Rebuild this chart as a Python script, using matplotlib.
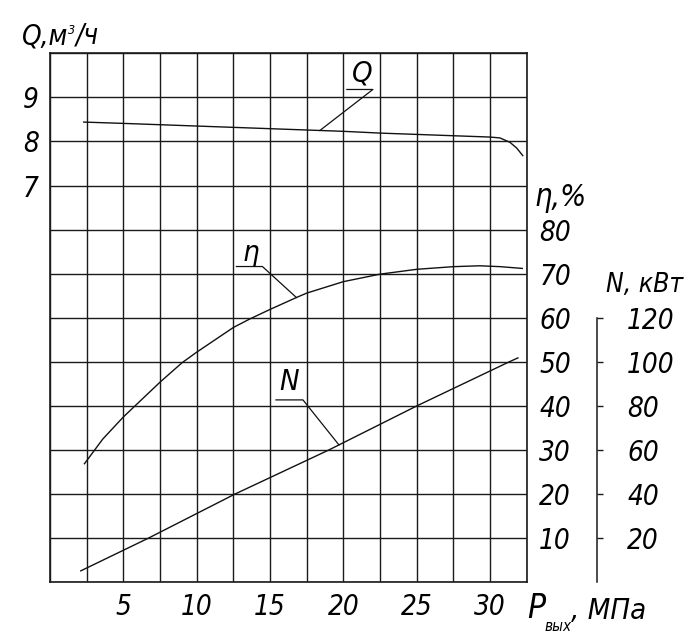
import numpy as np
import matplotlib
matplotlib.use('Agg')
import matplotlib.pyplot as plt
import matplotlib.transforms as mtrans
from matplotlib.lines import Line2D

plt.rcParams['font.family'] = ['DejaVu Sans']
plt.rcParams['font.style'] = 'italic'
plt.rcParams['font.stretch'] = 'condensed'

# ---------------- data ----------------
x_labels = [5, 10, 15, 20, 25, 30]
q_labels = [7, 8, 9]
eta_labels = [10, 20, 30, 40, 50, 60, 70, 80]
n_labels = [20, 40, 60, 80, 100, 120]

p_q = [2.3, 5, 7.5, 10, 12.5, 15, 17.5, 20, 22.5, 25, 27.5, 30, 30.68, 31.36, 31.82, 32.23]
q = [8.44, 8.41, 8.38, 8.35, 8.32, 8.29, 8.26, 8.23, 8.19, 8.16, 8.13, 8.10, 8.08, 7.98, 7.85, 7.68]

p_eta = [2.35, 3.6, 5, 7.5, 9, 10, 12.5, 13.6, 15, 16.8, 17.5, 20, 22.5, 25, 27.5, 29.3, 30.7, 32.2]
eta = [26.9, 32.5, 37.5, 45.4, 49.8, 52.2, 57.8, 59.7, 61.9, 64.6, 65.6, 68.2, 69.9, 71.0, 71.6, 71.8, 71.6, 71.2]

p_n = [2.1, 6.7, 12.6, 19.0, 25.0, 31.3, 31.9]
n_kw = [5.2, 20, 40, 60, 80, 100, 101.8]

# ---------------- layout ----------------
W, H = 689, 640
L, R, T, B = 50, 526.7, 53.3, 582.3
FS = 20
INK = '#1a1a1a'

fig = plt.figure(figsize=(W / 100, H / 100), dpi=100)
ax = fig.add_axes([L / W, 1 - B / H, (R - L) / W, (B - T) / H])

x_grid = np.arange(0, 32.5 + 1e-9, 2.5)
q_grid = np.arange(-2, 10 + 1e-9, 1)
ax.set_xlim(0, 32.5)
ax.set_ylim(-2, 10)
ax.set_xticks(x_grid)
ax.set_xticklabels([f'{v:g}' if v in x_labels else '' for v in x_grid])
ax.set_yticks(q_grid)
ax.set_yticklabels([f'{v:g}' if v in q_labels else '' for v in q_grid])
ax.grid(True, color=INK, lw=1.0)
ax.set_axisbelow(True)
ax.tick_params(length=0, labelsize=FS)
ax.tick_params(axis='x', pad=8)
ax.tick_params(axis='y', pad=8)
for s in ax.spines.values():
    s.set_color(INK)
    s.set_linewidth(1.2)

ax.plot(p_q, q, color='#111', lw=1.0, clip_on=False)

# efficiency axis
ax2 = ax.twinx()
ax2.set_ylim(0, 120)
ax2.set_yticks(eta_labels)
ax2.tick_params(length=0, labelsize=FS, pad=9)
for s in ax2.spines.values():
    s.set_visible(False)
ax2.plot(p_eta, eta, color='#111', lw=1.0, clip_on=False)

# power axis
axn = ax.twinx()
axn.set_ylim(0, 240)
for k, s in axn.spines.items():
    s.set_visible(k == 'right')
axn.spines['right'].set_position(('axes', (597.3 - L) / (R - L)))
axn.spines['right'].set_bounds(0, 120)
axn.spines['right'].set_color(INK)
axn.spines['right'].set_linewidth(1.1)
axn.set_yticks(n_labels)
axn.tick_params(axis='y', direction='out', length=4.5, width=1.0, color=INK,
                labelsize=FS, pad=17)
axn.plot(p_n, n_kw, color='#111', lw=1.0, clip_on=False)


def leader(axis, xs, ys, xa, label, text_off, under):
    ya = np.interp(xa, xs, ys)
    tr = mtrans.Affine2D() + mtrans.ScaledTranslation(xa, ya, axis.transData)
    ux0, ux1, uy = under
    axis.add_line(Line2D([ux0, ux1, 0], [uy, uy, 0], transform=tr,
                         color='#111', lw=0.9, clip_on=False))
    axis.text(text_off[0], text_off[1], label, transform=tr, ha='center',
              va='center', fontsize=FS + 1, style='italic')


leader(ax, p_q, q, 18.4, 'Q', (42, 57), (27, 53, 41))
leader(ax2, p_eta, eta, 16.8, 'η', (-46, 45), (-60, -34, 31))
leader(axn, p_n, n_kw, 19.7, 'N', (-50, 63), (-63, -36, 45))


def fx(px):
    return px / W


def fy(py):
    return 1 - py / H


t1 = fig.text(fx(22), fy(44), 'Q,м', fontsize=FS, va='baseline', ha='left')
t2 = ax.annotate('3', xy=(1, 1), xycoords=t1, xytext=(0, -2),
                 textcoords='offset pixels', fontsize=9, va='top', ha='left',
                 annotation_clip=False)
ax.annotate('/ч', xy=(1, 0), xycoords=(t2, t1), xytext=(0, 0),
            textcoords='offset pixels', fontsize=FS, va='bottom', ha='left',
            annotation_clip=False)

fig.text(fx(534), fy(206), 'η,%', fontsize=FS + 2, va='baseline', ha='left')
fig.text(fx(606), fy(292), 'N, кВт', fontsize=FS - 1, va='baseline', ha='left')

p1 = fig.text(fx(527), fy(618), 'P', fontsize=FS + 4, va='baseline', ha='left')
p2 = ax.annotate('вых', xy=(1, 0), xycoords=p1, xytext=(-1, -9),
                 textcoords='offset pixels', fontsize=11, va='bottom',
                 ha='left', annotation_clip=False)
ax.annotate(', МПа', xy=(1, 0), xycoords=(p2, p1), xytext=(0, 0),
            textcoords='offset pixels', fontsize=FS + 1, va='bottom',
            ha='left', annotation_clip=False)

fig.savefig('out.png', dpi=100)
